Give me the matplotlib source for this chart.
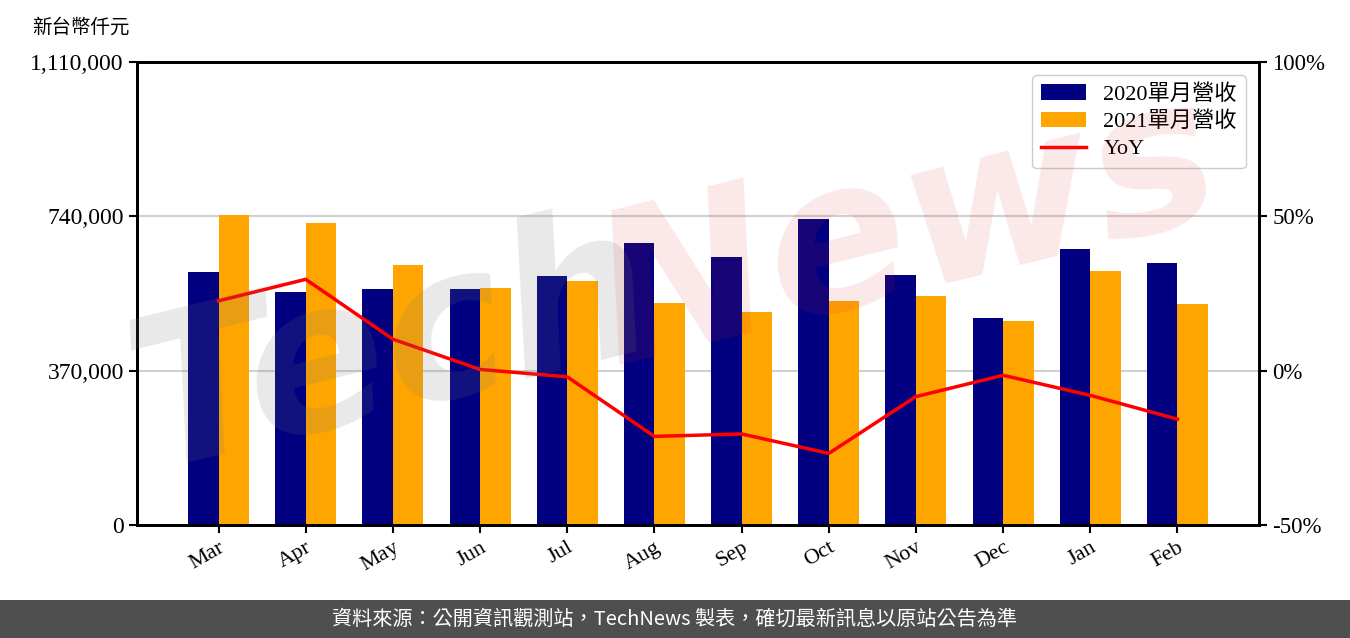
import matplotlib
matplotlib.use("Agg")
import matplotlib.pyplot as plt
from matplotlib.patches import Rectangle
import numpy as np

months = ["Mar", "Apr", "May", "Jun", "Jul", "Aug", "Sep", "Oct", "Nov", "Dec", "Jan", "Feb"]
rev_2020 = [606500, 558600, 565800, 565800, 597000, 676100, 642500, 733600, 599300, 496300, 661700, 628100]
rev_2021 = [743200, 724000, 623300, 568200, 585000, 532200, 510600, 537000, 549000, 489100, 608900, 529800]
yoy = [22.6, 29.6, 10.2, 0.4, -2.0, -21.3, -20.5, -26.8, -8.4, -1.5, -8.0, -15.7]
left_ticks = [0, 370000, 740000, 1110000]
right_ticks = [-50, 0, 50, 100]

SERIF = ["Liberation Serif", "Noto Sans CJK TC"]
plt.rcParams["font.family"] = SERIF

fig = plt.figure(figsize=(13.5, 6.38), dpi=100)
ax = fig.add_axes([137/1350, 113/638, (1259-137)/1350, (525-62)/638])

x = np.arange(len(months))
w = 0.35
ax.bar(x - w/2, rev_2020, w, color="#000080", label="2020單月營收", zorder=2)
ax.bar(x + w/2, rev_2021, w, color="#FFA500", label="2021單月營收", zorder=2)
ax.set_ylim(0, 1110000)
ax.set_yticks(left_ticks)
ax.set_yticklabels([f"{v:,}" for v in left_ticks], fontsize=17)
ax.set_xticks(x)
ax.set_xticklabels(months, rotation=30, ha="right", rotation_mode="anchor", fontsize=16)
ax.grid(axis="y", color="#d0d0d0", linewidth=1.5, zorder=0)
ax.set_axisbelow(True)
for s in ax.spines.values():
    s.set_linewidth(2)
ax.tick_params(axis="both", length=6, width=1.5)

ax2 = ax.twinx()
ln, = ax2.plot(x, yoy, color="red", linewidth=2.5, label="YoY", zorder=3)
ax2.set_ylim(-50, 100)
ax2.set_yticks(right_ticks)
ax2.set_yticklabels([f"{v}%" for v in right_ticks], fontsize=16.5)
ax2.tick_params(axis="y", length=6, width=1.5)
for s in ax2.spines.values():
    s.set_linewidth(2)

h1, l1 = ax.get_legend_handles_labels()
leg = ax2.legend(h1 + [ln], l1 + ["YoY"], loc="upper right", fontsize=16,
                 frameon=True, edgecolor="#cccccc", framealpha=1.0,
                 borderaxespad=0.6, handlelength=2.0, labelspacing=0.3)

fig.text(32/1350, 1 - 27/638, "新台幣仟元", fontsize=14, va="center", ha="left", family=SERIF)

# watermark
fig.text(150/1350, 1 - 470/638, "Tech", fontsize=150, fontweight="bold", style="italic",
         color="#777777", alpha=0.16, rotation=14, rotation_mode="anchor",
         ha="left", va="baseline", family="DejaVu Sans", zorder=10)
fig.text(615/1350, 1 - 365/638, "News", fontsize=150, fontweight="bold", style="italic",
         color="#dd3030", alpha=0.11, rotation=14, rotation_mode="anchor",
         ha="left", va="baseline", family="DejaVu Sans", zorder=10)

# footer
fig.patches.append(Rectangle((0, 0), 1, 38/638, transform=fig.transFigure,
                             facecolor="#4f4f4f", edgecolor="none", zorder=0))
fig.text(0.5, 19/638, "資料來源：公開資訊觀測站，TechNews 製表，確切最新訊息以原站公告為準",
         color="white", fontsize=14.5, ha="center", va="center",
         family=["Noto Sans CJK TC", "DejaVu Sans"])

fig.savefig("out.png", dpi=100)
